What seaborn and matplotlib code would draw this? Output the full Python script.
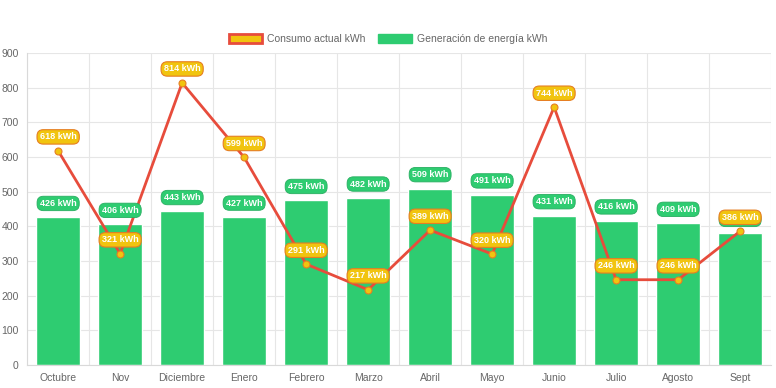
import matplotlib
matplotlib.use("Agg")
import matplotlib.pyplot as plt
import seaborn as sns
import pandas as pd
from matplotlib.patches import Patch
from matplotlib.ticker import MultipleLocator, FixedLocator

meses = ["Octubre", "Nov", "Diciembre", "Enero", "Febrero", "Marzo", "Abril",
         "Mayo", "Junio", "Julio", "Agosto", "Sept"]
generacion = [426, 406, 443, 427, 475, 482, 509, 491, 431, 416, 409, 380]
consumo = [618, 321, 814, 599, 291, 217, 389, 320, 744, 246, 246, 386]

verde = "#2ecc71"
rojo = "#e74c3c"
amarillo = "#f1c40f"

df = pd.DataFrame({"Mes": meses, "Generacion": generacion, "Consumo": consumo})

sns.set_style("white")
plt.rcParams['font.family'] = ['Liberation Sans', 'DejaVu Sans']

fig = plt.figure(figsize=(7.76, 3.88), dpi=100)
ax = fig.add_axes([0.035, 0.0593, 0.9587, 0.804])

sns.barplot(data=df, x="Mes", y="Generacion", color=verde, saturation=1,
            width=0.72, ax=ax, zorder=2)
sns.lineplot(data=df, x="Mes", y="Consumo", sort=False, color=rojo, linewidth=2,
             marker="o", markersize=5, markerfacecolor=amarillo,
             markeredgecolor="#e67e22", markeredgewidth=0.8, ax=ax, zorder=3)

ax.set_xlim(-0.5, len(meses) - 0.5)
ax.set_ylim(0, 900)
ax.yaxis.set_major_locator(MultipleLocator(100))
ax.xaxis.set_minor_locator(FixedLocator([i + 0.5 for i in range(-1, len(meses))]))
ax.grid(axis="y", which="major", color="#e6e6e6", linewidth=0.8, zorder=0)
ax.grid(axis="x", which="minor", color="#e6e6e6", linewidth=0.8, zorder=0)
ax.set_axisbelow(True)
ax.set_xlabel("")
ax.set_ylabel("")
ax.tick_params(axis="x", which="major", labelsize=7.5, colors="#666666", length=0, pad=6)
ax.tick_params(axis="x", which="minor", length=5, color="#e6e6e6")
ax.tick_params(axis="y", which="major", labelsize=7.5, labelcolor="#666666",
               length=4, color="#e6e6e6", pad=2)
for s in ["top", "right"]:
    ax.spines[s].set_visible(False)
for s in ["left", "bottom"]:
    ax.spines[s].set_color("#d9d9d9")
    ax.spines[s].set_linewidth(0.8)

for i, v in enumerate(generacion):
    ax.annotate(f"{v} kWh", (i, v), xytext=(0, 10), textcoords="offset points",
                ha="center", va="center", fontsize=6.5, fontweight="bold", color="white",
                bbox=dict(boxstyle="round,pad=0.3,rounding_size=0.7", fc=verde, ec="#27ae60", lw=0.6),
                zorder=5)
for i, v in enumerate(consumo):
    ax.annotate(f"{v} kWh", (i, v), xytext=(0, 10), textcoords="offset points",
                ha="center", va="center", fontsize=6.5, fontweight="bold", color="white",
                bbox=dict(boxstyle="round,pad=0.3,rounding_size=0.7", fc=amarillo, ec="#e67e22", lw=0.8),
                zorder=6)

handles = [Patch(facecolor=amarillo, edgecolor=rojo, linewidth=2, label="Consumo actual kWh"),
           Patch(facecolor=verde, edgecolor=verde, label="Generación de energía kWh")]
fig.legend(handles=handles, loc="center", bbox_to_anchor=(0.5, 0.9), ncol=2, frameon=False,
           fontsize=7.5, handlelength=3.2, handleheight=0.9, columnspacing=1.2,
           handletextpad=0.5, labelcolor="#666666")

fig.savefig("out.png", dpi=100)
